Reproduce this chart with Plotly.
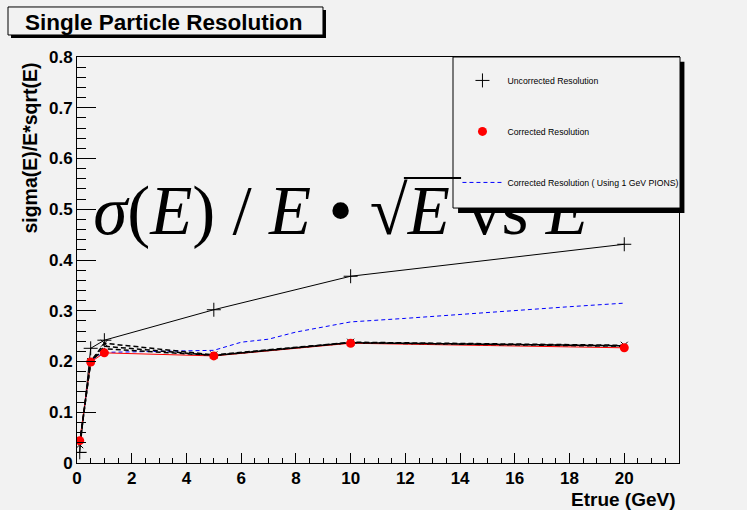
import plotly.graph_objects as go

# Beam energies (GeV) and measured resolution sigma(E)/E*sqrt(E)
energy = [0.1, 0.5, 1, 5, 10, 20]
uncorrected = [0.021, 0.226, 0.242, 0.302, 0.368, 0.431]
corrected = [0.044, 0.199, 0.217, 0.211, 0.236, 0.227]

# Correction derived from 1 GeV pions, sampled more finely
pion_energy = [0.1, 0.5, 1, 2, 3, 4, 5, 6, 7, 8, 9, 10, 12, 14, 16, 18, 20]
pion_corrected = [0.042, 0.202, 0.218, 0.219, 0.220, 0.221, 0.222, 0.238, 0.244,
                  0.258, 0.268, 0.278, 0.285, 0.293, 0.301, 0.308, 0.315]

# Alternative correction variants (unlabelled dashed curves)
variants = [
    [0.036, 0.200, 0.236, 0.213, 0.238, 0.232],
    [0.038, 0.200, 0.230, 0.212, 0.237, 0.231],
    [0.040, 0.200, 0.225, 0.212, 0.237, 0.230],
]

legend_labels = ["Uncorrected Resolution", "Corrected Resolution",
                 "Corrected Resolution ( Using 1 GeV PIONS)"]

BG = "#f2f2f2"
SANS = "Liberation Sans"

fig = go.Figure()

# Uncorrected: solid black line
fig.add_trace(go.Scatter(x=energy, y=uncorrected, mode="lines",
                         line=dict(color="black", width=1),
                         showlegend=False, hoverinfo="skip"))
# Pion-based correction: blue dashed
fig.add_trace(go.Scatter(x=pion_energy, y=pion_corrected, mode="lines",
                         line=dict(color="blue", width=1, dash="4px,3px"),
                         name=legend_labels[2], legendgroup="c", legendrank=3))
# Corrected: red line
fig.add_trace(go.Scatter(x=energy, y=corrected, mode="lines",
                         line=dict(color="red", width=1),
                         showlegend=False, hoverinfo="skip"))
# Variants: black dashed
for i, v in enumerate(variants):
    fig.add_trace(go.Scatter(x=energy, y=v,
                             mode="lines+markers" if i == 0 else "lines",
                             line=dict(color="black", width=1.5, dash="5px,3px"),
                             marker=dict(symbol="x-thin-open", size=7, color="black",
                                         line=dict(color="black", width=1)),
                             showlegend=False, hoverinfo="skip"))
# Corrected markers
fig.add_trace(go.Scatter(x=energy, y=corrected, mode="markers",
                         marker=dict(symbol="circle", size=9, color="red"),
                         name=legend_labels[1], legendgroup="b", legendrank=2))
# Uncorrected markers
fig.add_trace(go.Scatter(x=energy, y=uncorrected, mode="markers",
                         marker=dict(symbol="cross-thin-open", size=10, color="black",
                                     line=dict(color="black", width=1)),
                         name=legend_labels[0], legendgroup="a", legendrank=1))

# Large formula label inside the frame
fig.add_trace(go.Scatter(
    x=[9.63], y=[0.485], mode="text",
    text=["<i>σ</i>(<i>E</i>) / <i>E</i> • √<i>E</i> vs <i>E</i>"],
    textposition="middle center",
    textfont=dict(family="Liberation Serif", size=69, color="black"),
    showlegend=False, hoverinfo="skip", cliponaxis=False))

axis_common = dict(
    showline=True, mirror=True, linecolor="black", linewidth=1,
    showgrid=False, zeroline=False, ticks="inside", tickcolor="black",
    tickwidth=1,
    tickfont=dict(family=SANS, size=17, color="black", weight="bold"),
)

fig.update_xaxes(range=[0, 22], tickmode="array",
                 tickvals=[0, 2, 4, 6, 8, 10, 12, 14, 16, 18, 20],
                 ticklen=10,
                 minor=dict(tickmode="linear", tick0=0, dtick=0.5,
                            ticks="inside", ticklen=5, tickcolor="black"),
                 **axis_common)
fig.update_yaxes(range=[0, 0.8], tick0=0, dtick=0.1, ticklen=19,
                 minor=dict(tick0=0, dtick=0.02, ticks="inside", ticklen=9,
                            tickcolor="black"),
                 **axis_common)

shapes = [
    # title box shadow + box
    dict(type="rect", xref="paper", yref="paper", x0=-0.1096, x1=0.4136,
         y0=1.0468, y1=1.1158, fillcolor="black", line=dict(width=0), layer="above"),
    dict(type="rect", xref="paper", yref="paper", x0=-0.1146, x1=0.4086,
         y0=1.0542, y1=1.1232, fillcolor=BG, line=dict(color="black", width=1), layer="above"),
    # legend box shadow + box
    dict(type="rect", xref="paper", yref="paper", x0=0.633, x1=1.009,
         y0=0.616, y1=0.988, fillcolor="black", line=dict(width=0), layer="above"),
    dict(type="rect", xref="paper", yref="paper", x0=0.6246, x1=1.0017,
         y0=0.628, y1=1.0, fillcolor=BG, line=dict(color="black", width=1), layer="above"),
    # radical overbar of the formula
    dict(type="line", xref="paper", yref="paper", x0=0.543, x1=0.638,
         y0=0.702, y1=0.702, line=dict(color="black", width=2), layer="above"),
]

annotations = [
    dict(text="<b>Single Particle Resolution</b>", xref="paper", yref="paper",
         x=-0.0897, y=1.086, xanchor="left", yanchor="middle", showarrow=False,
         font=dict(family=SANS, size=22.5, color="black")),
    dict(text="<b>sigma(E)/E*sqrt(E)</b>", xref="paper", yref="paper",
         x=-0.078, y=0.99, xanchor="center", yanchor="top", textangle=-90,
         showarrow=False, font=dict(family=SANS, size=19.5, color="black")),
    dict(text="<b>Etrue (GeV)</b>", xref="paper", yref="paper",
         x=0.998, y=-0.0887, xanchor="right", yanchor="middle", showarrow=False,
         font=dict(family=SANS, size=19, color="black")),
]

fig.update_layout(
    width=747, height=510,
    margin=dict(l=77, r=68, t=57, b=47),
    paper_bgcolor=BG, plot_bgcolor=BG,
    shapes=shapes, annotations=annotations,
    legend=dict(x=0.632, y=0.978, xanchor="left", yanchor="top",
                bgcolor="rgba(0,0,0,0)", borderwidth=0,
                font=dict(family=SANS, size=8.7, color="black"),
                tracegroupgap=32, itemwidth=40),
)

fig.write_html("out.html")
